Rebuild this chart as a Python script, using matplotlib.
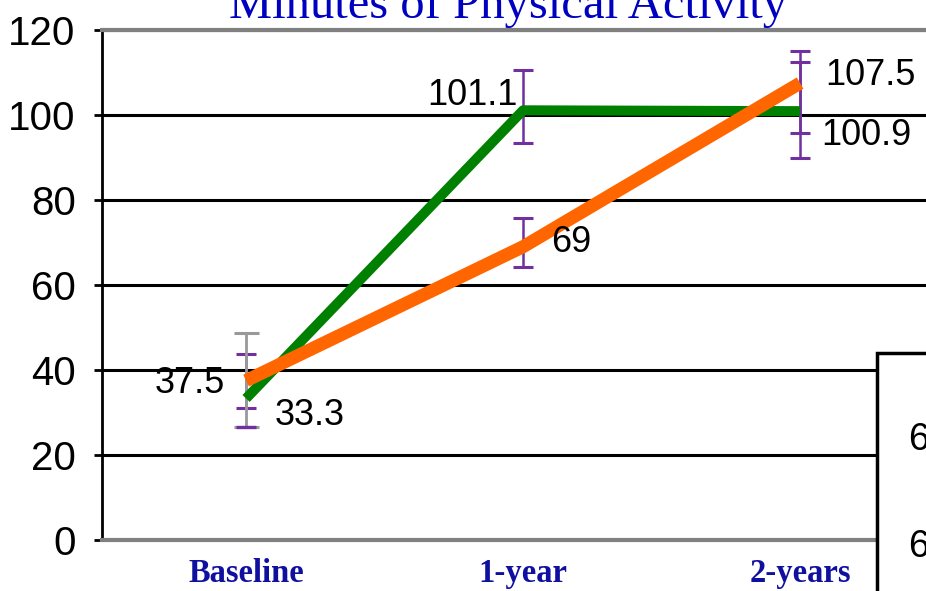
import numpy as np
import matplotlib.pyplot as plt
from matplotlib.patches import Rectangle

categories = ["Baseline", "1-year", "2-years"]
green_vals = [33.3, 101.1, 100.9]
orange_vals = [37.5, 69, 107.5]
green_hi = [43.8, 110.6, 112.5]
green_lo = [31.1, 93.4, 89.9]
orange_hi = [48.7, 75.8, 115.1]
orange_lo = [26.6, 64.2, 95.8]
yticks = [0, 20, 40, 60, 80, 100, 120]
legend_text = ["6", "6"]

NUM_FONT = ["Liberation Sans", "DejaVu Sans"]
SERIF = ["Liberation Serif", "DejaVu Serif"]
PURPLE = "#7030A0"
GREEN = "#008000"
ORANGE = "#FF6600"
BLUE = "#0000C0"


def main():
    fig = plt.figure(figsize=(9.26, 5.91), dpi=100)
    ax = fig.add_axes([0.1102, 0.0863, 0.9034, 0.8630])
    x = np.arange(len(categories))

    ax.set_xlim(-0.52, 2.5)
    ax.set_ylim(0, 120)
    ax.set_yticks(yticks)
    ax.set_yticklabels([str(t) for t in yticks], family=NUM_FONT, fontsize=29)
    ax.tick_params(axis="y", direction="out", length=6, width=2, pad=13, color="black")
    ax.set_xticks(x)
    ax.set_xticklabels(categories, family=SERIF, fontsize=23.5, fontweight="bold", color="#1010A0")
    ax.tick_params(axis="x", length=0, pad=13)

    ax.grid(axis="y", color="black", linewidth=2.2)
    ax.set_axisbelow(True)
    for s in ["top", "bottom"]:
        ax.spines[s].set_color("#808080")
        ax.spines[s].set_linewidth(3)
    ax.spines["right"].set_visible(False)
    ax.spines["left"].set_linewidth(2)

    # error bars
    g = np.array(green_vals)
    o = np.array(orange_vals)
    ax.errorbar(x, g, yerr=[g - np.array(green_lo), np.array(green_hi) - g], fmt="none",
                ecolor=PURPLE, elinewidth=1.8, capsize=7, capthick=2.2, zorder=3)
    ax.errorbar(x[1:], o[1:], yerr=[o[1:] - np.array(orange_lo[1:]), np.array(orange_hi[1:]) - o[1:]],
                fmt="none", ecolor=PURPLE, elinewidth=1.8, capsize=7, capthick=2.2, zorder=3)
    ax.errorbar(x[:1], o[:1], yerr=[o[:1] - np.array(orange_lo[:1]), np.array(orange_hi[:1]) - o[:1]],
                fmt="none", ecolor="#999999", elinewidth=2, capsize=9, capthick=2.2, zorder=3.5)
    ax.plot(x[:1], orange_lo[:1], marker="_", markersize=14, mew=2.4, color=PURPLE, zorder=3.6)

    ax.plot(x, green_vals, color=GREEN, linewidth=7.2, solid_capstyle="butt", zorder=4)
    ax.plot(x, orange_vals, color=ORANGE, linewidth=9.4, solid_capstyle="butt", zorder=5)

    lab = dict(textcoords="offset pixels", family=NUM_FONT, fontsize=26, va="center", zorder=6)
    ax.annotate(f"{orange_vals[0]}", (x[0], orange_vals[0]), xytext=(-21, -3), ha="right", **lab)
    ax.annotate(f"{green_vals[0]}", (x[0], green_vals[0]), xytext=(29, -17), ha="left", **lab)
    ax.annotate(f"{green_vals[1]}", (x[1], green_vals[1]), xytext=(-5, 15), ha="right", **lab)
    ax.annotate(f"{orange_vals[1]}", (x[1], orange_vals[1]), xytext=(28, 4), ha="left", **lab)
    ax.annotate(f"{orange_vals[2]}", (x[2], orange_vals[2]), xytext=(25, 8), ha="left", **lab)
    ax.annotate(f"{green_vals[2]}", (x[2], green_vals[2]), xytext=(21, -24), ha="left", **lab)

    fig.text(0.549, 1 - 18 / 591, "Minutes of Physical Activity", family=SERIF, fontsize=35,
             color=BLUE, ha="center", va="baseline")

    # partially visible legend box at right
    fig.patches.append(Rectangle((877 / 926, -0.01), 0.1, 1 - 353 / 591 + 0.01, transform=fig.transFigure,
                                 facecolor="white", edgecolor="black", linewidth=2.5, zorder=10))
    for t, ypx in zip(legend_text, [440, 547]):
        fig.text(908 / 926, 1 - ypx / 591, t, family=NUM_FONT, fontsize=27, va="center", ha="left", zorder=11)

    plt.savefig("out.png", dpi=100)


if __name__ == "__main__":
    main()
